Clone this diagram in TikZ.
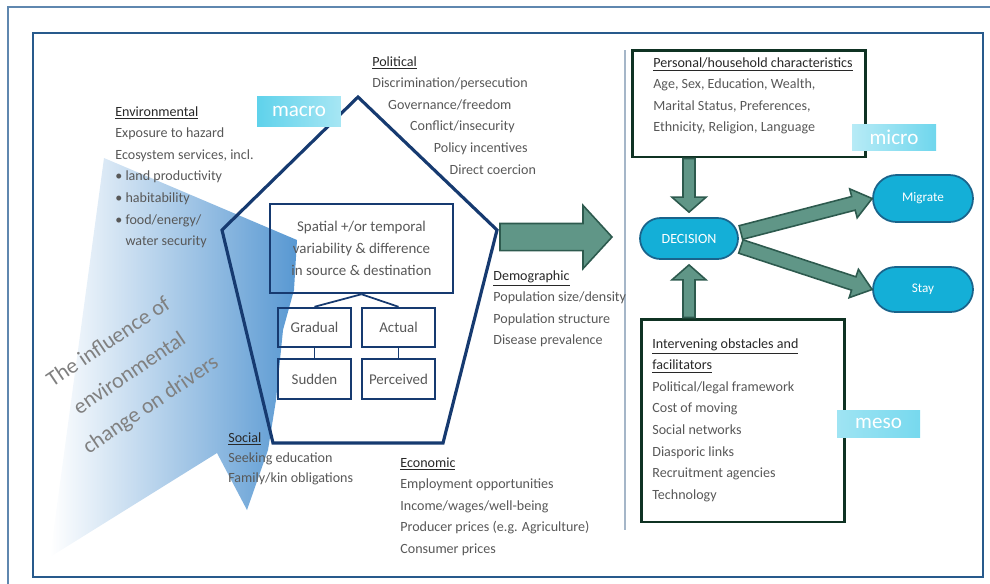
\documentclass[tikz,border=0pt]{standalone}
\usepackage{fontspec}
\setmainfont{Carlito}
\usetikzlibrary{calc,shapes.misc}

\definecolor{navy}{RGB}{22,58,112}
\definecolor{frameblue}{RGB}{40,90,140}
\definecolor{outerblue}{RGB}{95,135,175}
\definecolor{sepgrey}{RGB}{165,182,200}
\definecolor{bandblue}{RGB}{88,152,210}
\definecolor{txtgrey}{RGB}{88,88,88}
\definecolor{headgrey}{RGB}{40,40,40}
\definecolor{boxgreen}{RGB}{15,50,35}
\definecolor{pillcyan}{RGB}{20,175,215}
\definecolor{pilledge}{RGB}{25,100,140}
\definecolor{labelcyan}{RGB}{95,210,235}
\definecolor{arrowfill}{RGB}{96,150,135}
\definecolor{arrowedge}{RGB}{45,90,78}

% block arrow: from, to, half shaft, half head, head length
\newcommand{\fatarrow}[5]{%
  \filldraw[arrowbody] let \p1=($(#2)-(#1)$), \n1={atan2(\y1,\x1)} in
    ($(#1)+(\n1+90:#3)$) -- ($(#2)+(\n1+180:#5)+(\n1+90:#3)$)
    -- ($(#2)+(\n1+180:#5)+(\n1+90:#4)$) -- (#2)
    -- ($(#2)+(\n1+180:#5)+(\n1-90:#4)$) -- ($(#2)+(\n1+180:#5)+(\n1-90:#3)$)
    -- ($(#1)+(\n1-90:#3)$) -- cycle;}

\tikzset{
  txt/.style={anchor=north west, inner sep=0pt, align=left, text=txtgrey,
    font=\fontsize{8}{12.3}\selectfont},
  pentaline/.style={draw=navy, line width=1.8pt, line join=miter},
  navybox/.style={draw=navy, line width=1.4pt, text=txtgrey, align=center,
    inner sep=0pt, font=\fontsize{8.5}{12.6}\selectfont},
  greenbox/.style={draw=boxgreen, line width=1.7pt},
  pill/.style={rounded rectangle, fill=pillcyan, draw=pilledge, line width=1pt,
    text=white, inner sep=0pt},
  scalelabel/.style={text=white, inner sep=0pt, font=\fontsize{12}{14}\selectfont},
  arrowbody/.style={fill=arrowfill, draw=arrowedge, line width=0.9pt, line join=miter},
}

\begin{document}
\begin{tikzpicture}[x=0.02cm, y=-0.02cm]
    \useasboundingbox (0,0) rectangle (990,583);
    \clip (0,0) rectangle (990,583);

    % frames
    \draw[outerblue, line width=0.6pt] (8,7) rectangle (1000,600);
    \draw[frameblue, line width=1.3pt] (33,33) rectangle (983,577);
    \draw[sepgrey, line width=0.7pt] (625,50) -- (625,530);

    % influence band
    \shade[left color=white, right color=bandblue]
        (104,158) -- (297,240) -- (294,290) -- (283,330) -- (276,400)
        -- (268,450) -- (247,510) -- (217,453) -- (50,557) -- cycle;
    \node[rotate=34, align=center, text=black!50, font=\fontsize{12.5}{21.5}\selectfont]
        at (130,374) (influence) {The influence of\\environmental\\change on drivers};

    % drivers pentagon
    \draw[pentaline] (358,97) -- (497,230) -- (443,443) -- (273,443) -- (222,230) -- cycle;

    \node[navybox, minimum width=3.66cm, minimum height=1.78cm] at (361.5,248.5) (spatial)
        {Spatial +/or temporal\\variability \& difference\\in source \& destination};
    \node[navybox, minimum width=1.46cm, minimum height=0.78cm] at (314.5,327.5) (gradual) {Gradual};
    \node[navybox, minimum width=1.46cm, minimum height=0.78cm] at (398.5,327.5) (actual) {Actual};
    \node[navybox, minimum width=1.46cm, minimum height=0.8cm] at (314.5,379) (sudden) {Sudden};
    \node[navybox, minimum width=1.46cm, minimum height=0.8cm] at (398.5,379) (perceived) {Perceived};

    \draw[navy, line width=1pt] (spatial.south) -- (gradual.north);
    \draw[navy, line width=1pt] (spatial.south) -- (actual.north);
    \draw[navy, line width=1pt] (gradual.south) -- (sudden.north);
    \draw[navy, line width=1pt] (actual.south) -- (perceived.north);

    % driver texts
    \node[txt] at (115,106) (envtext) {{\color{headgrey}\underline{Environmental}}\\
        Exposure to hazard\\Ecosystem services, incl.\\
        • land productivity\\• habitability\\• food/energy/\\
        \hphantom{• }water security};
    \node[txt] at (372,56) (poltext) {{\color{headgrey}\underline{Political}}\\
        Discrimination/persecution\\
        \hspace*{9pt}Governance/freedom\\
        \hspace*{21.5pt}Conflict/insecurity\\
        \hspace*{35pt}Policy incentives\\
        \hspace*{44pt}Direct coercion};
    \node[txt] at (493,270) (demtext) {{\color{headgrey}\underline{Demographic}}\\
        Population size/density\\Population structure\\Disease prevalence};
    \node[txt] at (400,457) (ecotext) {{\color{headgrey}\underline{Economic}}\\
        Employment opportunities\\Income/wages/well-being\\
        Producer prices (e.g. Agriculture)\\Consumer prices};
    \node[txt, font=\fontsize{8}{11.4}\selectfont] at (228,432) (soctext)
        {{\color{headgrey}\underline{Social}}\\Seeking education\\Family/kin obligations};

    \node[scalelabel, left color=labelcyan, right color=labelcyan!55,
        minimum width=1.68cm, minimum height=0.6cm] at (299,111) (macro) {macro};

    % big arrow to decision side
    \coordinate (bigfrom) at (500,237);
    \coordinate (bigto) at (612,237);
    \fatarrow{bigfrom}{bigto}{7.7pt}{18pt}{16.5pt}

    % decision side
    \node[greenbox, minimum width=4.68cm, minimum height=2.14cm] at (749,103.5) (personal) {};
    \node[txt] at (653,57) (personaltext) {{\color{headgrey}\underline{Personal/household characteristics}}\\
        Age, Sex, Education, Wealth,\\Marital Status, Preferences,\\Ethnicity, Religion, Language};
    \node[greenbox, minimum width=4.08cm, minimum height=4.06cm] at (743,420.5) (obstacles) {};
    \node[txt] at (652,338) (obstaclestext) {{\color{headgrey}\underline{Intervening obstacles and}}\\
        {\color{headgrey}\underline{facilitators}}\\
        Political/legal framework\\Cost of moving\\Social networks\\
        Diasporic links\\Recruitment agencies\\Technology};

    \node[pill, minimum width=1.96cm, minimum height=0.82cm, font=\fontsize{8}{10}\selectfont]
        at (689,238.5) (decision) {DECISION};
    \node[pill, minimum width=2cm, minimum height=0.94cm, font=\fontsize{7.5}{9}\selectfont]
        at (923,198.5) (migrate) {Migrate};
    \node[pill, minimum width=2cm, minimum height=0.9cm, font=\fontsize{7.5}{9}\selectfont]
        at (923,289.5) (stay) {Stay};

    \node[scalelabel, left color=labelcyan!45, right color=labelcyan!90,
        minimum width=1.68cm, minimum height=0.52cm] at (894,137) (micro) {micro};
    \node[scalelabel, left color=labelcyan!60, right color=labelcyan!85,
        minimum width=1.66cm, minimum height=0.54cm] at (878.5,423.5) (meso) {meso};

    \coordinate (pfrom) at (decision.north |- personal.south);
    \coordinate (pto) at ($(decision.north)+(0,-5)$);
    \fatarrow{pfrom}{pto}{3.4pt}{9.7pt}{8.5pt}
    \coordinate (ofrom) at (decision.south |- obstacles.north);
    \coordinate (oto) at ($(decision.south)+(0,5)$);
    \fatarrow{ofrom}{oto}{3.4pt}{9.7pt}{8.5pt}
    \coordinate (mfrom) at ($(decision.east)+(2,-6)$);
    \fatarrow{mfrom}{migrate.west}{4pt}{8.5pt}{11pt}
    \coordinate (sfrom) at ($(decision.east)+(2,8)$);
    \fatarrow{sfrom}{stay.west}{4pt}{8.5pt}{11pt}

\end{tikzpicture}
\end{document}
